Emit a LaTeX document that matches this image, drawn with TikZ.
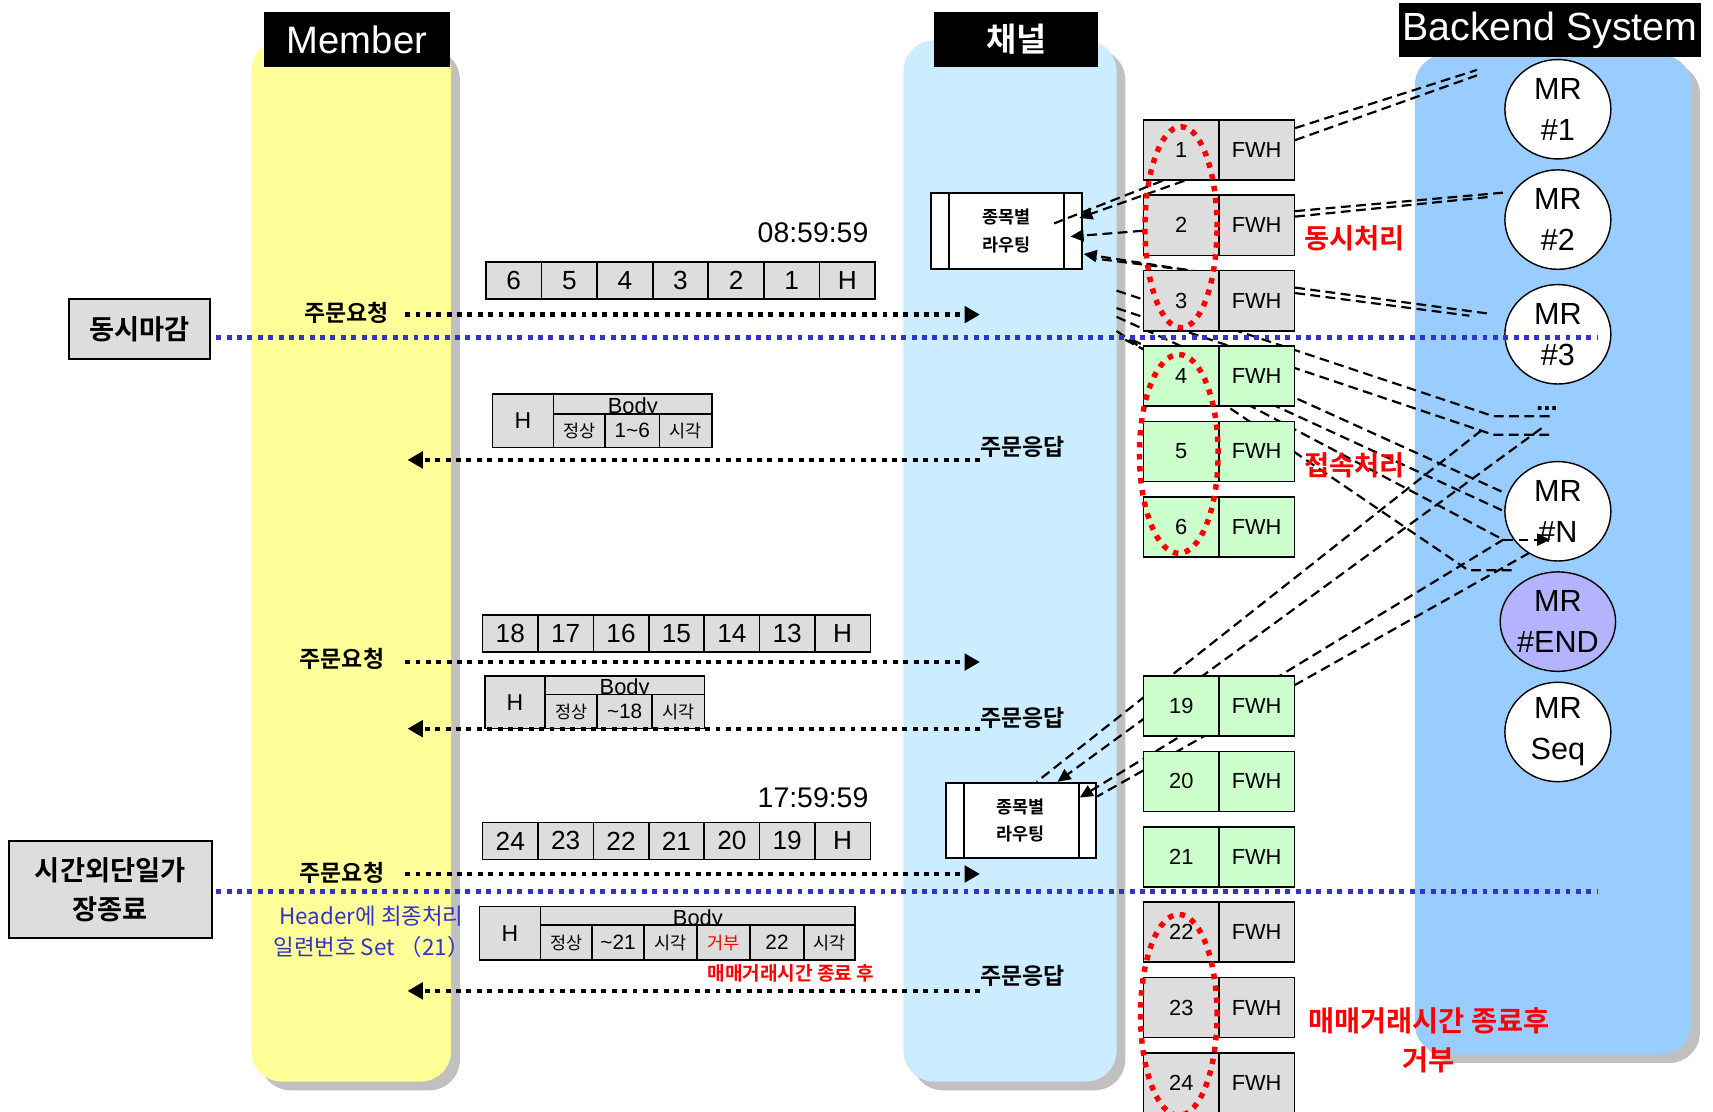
\documentclass[tikz,border=0pt]{standalone}
\usepackage{fontspec}
\setmainfont{Liberation Sans}
\newfontfamily\kr{Noto Sans CJK KR}[BoldFont={Noto Sans CJK KR Bold}]
\usepackage{tikz}
\usetikzlibrary{arrows.meta,positioning,shapes.geometric}
\definecolor{LaneYellow}{HTML}{FFFF99}
\definecolor{LaneSky}{HTML}{CCECFF}
\definecolor{LaneBlue}{HTML}{99CCFF}
\definecolor{LaneShade}{HTML}{C0C0C0}
\definecolor{PktGray}{HTML}{DDDDDD}
\definecolor{PktGreen}{HTML}{CCFFCC}
\definecolor{CutBlue}{HTML}{3333CC}
\definecolor{EndViolet}{HTML}{B3B3FF}
\definecolor{NoteRed}{HTML}{FF0000}
\newcommand{\fsz}[2]{\fontsize{#1}{#2}\selectfont}
\newcommand{\kc}[1]{{\kr\fsz{16}{18}#1}}
\pgfdeclarelayer{lanes}
\pgfdeclarelayer{wires}
\pgfsetlayers{lanes,wires,main}
\tikzset{
  lanehead/.style={fill=black,text=white,inner sep=0pt,anchor=north west},
  sidebox/.style={draw=black,line width=1.8pt,fill=PktGray,inner sep=0pt,align=center,font=\kr\bfseries\fsz{25}{35}},
  pktcell/.style={draw=black,line width=1.5pt,fill=PktGray,inner sep=0pt,anchor=north west,font=\fsz{24}{26}},
  subcell/.style={pktcell,minimum height=31pt,font=\fsz{19}{20}},
  fwhcell/.style={draw=black,line width=1.5pt,inner sep=0pt,anchor=north west,minimum width=69pt,minimum height=55pt,font=\fsz{20}{22}},
  mrnode/.style={ellipse,draw=black,line width=1.3pt,fill=white,minimum width=97pt,minimum height=91pt,inner sep=0pt,align=center,font=\fsz{28}{37.5}},
  routebox/.style={draw=black,line width=1.8pt,fill=white,minimum width=138pt,minimum height=69pt,inner sep=0pt,align=center,font=\kr\bfseries\fsz{16}{25}},
  msglabel/.style={inner sep=0pt,font=\kr\bfseries\fsz{21}{23}},
  notered/.style={inner sep=0pt,text=NoteRed,align=center,font=\kr\bfseries\fsz{26}{36}},
  reqarrow/.style={-{Triangle[length=14pt,width=15pt]},line width=4pt,dash pattern=on 4.5pt off 5pt},
  cutline/.style={line width=4.5pt,draw=CutBlue,dash pattern=on 4.5pt off 5pt},
  wire/.style={line width=2pt,dash pattern=on 9pt off 5pt},
  wirearrow/.style={wire,-{Triangle[length=12pt,width=11pt]}},
  groupring/.style={draw=NoteRed,line width=5pt,dash pattern=on 5pt off 6pt}
}

\begin{document}
\begin{tikzpicture}[x=1pt,y=-1pt]
\useasboundingbox (0,0) rectangle (1568,1017);
% swim lanes
\begin{pgfonlayer}{lanes}
\foreach \xa/\ya/\xb/\yb/\col in {230/37/413/990/LaneYellow,827/37/1022/990/LaneSky,1295/50/1548/965/LaneBlue}{
  \fill[LaneShade,rounded corners=28pt] (\xa+8,\ya+8) rectangle (\xb+8,\yb+8);
  \fill[\col,rounded corners=28pt] (\xa,\ya) rectangle (\xb,\yb);
}
\end{pgfonlayer}
\node[lanehead,minimum width=171pt,minimum height=50pt,font=\fsz{35}{38}] (hmem) at (241,11) {Member};
\node[lanehead,minimum width=150pt,minimum height=50pt,font=\kr\bfseries\fsz{30}{34}] (hch) at (855,11) {채널};
\node[lanehead,minimum width=277pt,minimum height=49pt,font=\fsz{36}{38}] (hbe) at (1280,3) {Backend System};
\node[sidebox,minimum width=129pt,minimum height=55pt] (dm) at (127.5,301.5) {동시마감};
\node[sidebox,minimum width=186pt,minimum height=89pt] (tj) at (101,814.5) {시간외단일가\\장종료};

% channel boxes
\foreach \k/\y/\col in {1/109/PktGray,2/178/PktGray,3/247/PktGray,4/316/PktGreen,5/385/PktGreen,6/454/PktGreen,19/618/PktGreen,20/687/PktGreen,21/756/PktGreen,22/825/PktGray,23/894/PktGray,24/963/PktGray}{
  \node[fwhcell,fill=\col] (n\k) at (1046,\y) {\k};
  \node[fwhcell,fill=\col] (f\k) at (1115,\y) {FWH};
}
\draw[groupring] (1081,208) ellipse [x radius=33pt,y radius=92pt];
\draw[groupring] (1079,415.5) ellipse [x radius=36pt,y radius=91pt];
\draw[groupring] (1079,929) ellipse [x radius=35pt,y radius=92pt];

% backend MR
\node[mrnode] (mr1) at (1426,100) {MR\\\#1};
\node[mrnode] (mr2) at (1426,201) {MR\\\#2};
\node[mrnode] (mr3) at (1426,306) {MR\\\#3};
\node[inner sep=0pt,anchor=base,font=\bfseries\fsz{24}{24}] (mrdots) at (1416,376) {...};
\node[mrnode] (mrn) at (1426,468) {MR\\\#N};
\node[mrnode,fill=EndViolet] (mrend) at (1426,569) {MR\\\#END};
\node[mrnode] (mrseq) at (1426,670) {MR\\Seq};

\node[notered,font=\kr\bfseries\fsz{25}{30}] (nsim) at (1240,218) {동시처리};
\node[notered,font=\kr\bfseries\fsz{25}{30}] (ncon) at (1240,426) {접속처리};
\node[notered] (nrej) at (1308,952) {매매거래시간 종료후\\거부};

% routing and dashed wires
\begin{pgfonlayer}{wires}
\node[routebox] (rt1) at (921,211.5) {종목별\\라우팅};
\node[routebox] (rt2) at (934.5,751) {종목별\\라우팅};
\foreach \b in {rt1,rt2}{
  \draw[line width=1.8pt] ([xshift=18pt]\b.north west) -- ([xshift=18pt]\b.south west);
  \draw[line width=1.8pt] ([xshift=-17pt]\b.north east) -- ([xshift=-17pt]\b.south east);
}
\foreach \nm/\px/\py in {e1a/1352/64,e1b/1352/69,e2a/1380/176,e2b/1366/180,e3a/1362/287,e3b/1345/289,
  s1/1022/266,k1/1367/381,d1/1419/381,s2/1022/282,k2/1367/398,d2/1419/398,s3/1022/290,s4/1036/311,
  s5/1022/303,k5/1344/522,d5/1388/522,s6/1030/311,u1/1356/394,u2/1411/392,u3/1376/494,d3/1419/494,u4/1400/506}
  \coordinate (\nm) at (\px,\py);
\draw[wire] ([yshift=20pt]f1.east) -- (e1a);
\draw[wire] ([yshift=9pt]f1.east) -- (e1b);
\draw[wire] ([yshift=13pt]f2.east) -- (e2a);
\draw[wire] ([yshift=8pt]f2.east) -- (e2b);
\draw[wire] ([yshift=12pt]f3.east) -- (e3a);
\draw[wire] ([yshift=7pt]f3.east) -- (e3b);
\draw[wire] (s1) -- (k1) -- (d1);
\draw[wire] (s2) -- (k2) -- (d2);
\draw[wire] (s3) -- ([yshift=17pt]mrn.west);
\draw[wire] (s4) -- (mrn.west);
\draw[wire] (s5) -- (k5) -- (d5);
\draw[wire] (s6) -- (u3);
\draw[wire] (u1) -- ([xshift=14.5pt]rt2.north);
\draw[wirearrow] (u2) -- ([xshift=33.5pt]rt2.north);
\draw[wire,{Triangle[length=12pt,width=11pt]}-] ([xshift=-16pt,yshift=21pt]rt2.east) -- (u3);
\draw[wire] (u4) -- ([yshift=22pt]rt2.east);
\draw[wirearrow] ([xshift=38pt]n1.south west) -- ([xshift=-3pt,yshift=12pt]rt1.east);
\draw[wire] ([xshift=18pt]n1.south west) -- ([xshift=-26pt,yshift=7pt]rt1.east);
\draw[wirearrow] ([yshift=-5pt]n2.west) -- ([xshift=-11pt,yshift=-5pt]rt1.east);
\draw[wirearrow] ([xshift=40pt]n3.north west) -- ([xshift=1pt,yshift=-21pt]rt1.east);
\draw[wire] ([xshift=55pt,yshift=-2pt]n3.north west) -- ([xshift=10pt,yshift=-25pt]rt1.east);
\end{pgfonlayer}
\draw[wirearrow] (u3) -- (d3);

% cut-off lines
\coordinate (c1a) at (198,309); \coordinate (c1b) at (1462,309);
\coordinate (c2a) at (198,816); \coordinate (c2b) at (1462,816);
\draw[cutline] (c1a) -- (c1b);
\draw[cutline] (c2a) -- (c2b);

% order packets
\foreach \cell [count=\i from 0] in {6,5,4,3,2,1,H}
  \node[pktcell,minimum width=50.9pt,minimum height=34pt] (pa\i) at (444+50.9*\i,239) {\cell};
\foreach \cell [count=\i from 0] in {18,17,16,15,14,13,H}
  \node[pktcell,minimum width=50.7pt,minimum height=34pt] (pb\i) at (441+50.7*\i,562) {\cell};
\foreach \cell [count=\i from 0] in {24,23,22,21,20,19,H}
  \node[pktcell,minimum width=50.7pt,minimum height=34pt] (pc\i) at (441+50.7*\i,752) {\cell};
\node[anchor=east,inner sep=0pt,font=\fsz{26}{28}] (ta) at (795,213) {08:59:59};
\node[anchor=east,inner sep=0pt,font=\fsz{26}{28}] (tb) at (795,730) {17:59:59};

% response packets
\node[pktcell,minimum width=56pt,minimum height=49pt,font=\fsz{21}{22}] (ra0) at (450,360) {H};
\node[pktcell,minimum width=145pt,minimum height=18pt,font=\fsz{20}{20}] (rab) at (506,360) {\raisebox{-9pt}[0pt][0pt]{Body}};
\foreach \x/\w/\cell [count=\i] in {506/47/\kc{정상},553/50/1\textasciitilde6,603/48/\kc{시각}}
  \node[subcell,minimum width=\w pt] (ra\i) at (\x,378) {\cell};
\node[pktcell,minimum width=55pt,minimum height=48pt,font=\fsz{21}{22}] (rb0) at (443,618) {H};
\node[pktcell,minimum width=146pt,minimum height=17pt,font=\fsz{20}{20}] (rbb) at (498,618) {\raisebox{-8.5pt}[0pt][0pt]{Body}};
\foreach \x/\w/\cell [count=\i] in {498/48/\kc{정상},546/50/\textasciitilde18,596/48/\kc{시각}}
  \node[subcell,minimum width=\w pt] (rb\i) at (\x,635) {\cell};
\node[pktcell,minimum width=56pt,minimum height=49pt,font=\fsz{21}{22}] (rc0) at (438,829) {H};
\node[pktcell,minimum width=288pt,minimum height=17pt,font=\fsz{20}{20}] (rcb) at (494,829) {\raisebox{-8.5pt}[0pt][0pt]{Body}};
\foreach \x/\w/\cell [count=\i] in {494/47/\kc{정상},541/48/\textasciitilde21,589/48/\kc{시각},637/49/\kc{\color{NoteRed}거부},686/49/22,735/47/\kc{시각}}
  \node[subcell,minimum width=\w pt,minimum height=32pt] (rc\i) at (\x,846) {\cell};

% requests and responses
\node[msglabel] (rq1) at (317,286) {주문요청};
\node[msglabel] (rq2) at (313,603) {주문요청};
\node[msglabel] (rq3) at (313,799) {주문요청};
\coordinate (rq1e) at (897,288);
\coordinate (rq2e) at (897,606);
\coordinate (rq3e) at (897,800);
\draw[reqarrow] ([xshift=15pt,yshift=-2pt]rq1.east) -- (rq1e);
\draw[reqarrow] ([xshift=19pt,yshift=-3pt]rq2.east) -- (rq2e);
\draw[reqarrow] ([xshift=19pt,yshift=-1pt]rq3.east) -- (rq3e);
\node[msglabel,anchor=west] (rs1) at (897,409) {주문응답};
\node[msglabel,anchor=west] (rs2) at (897,657) {주문응답};
\node[msglabel,anchor=west] (rs3) at (897,893) {주문응답};
\coordinate (rs1e) at (373,421);
\coordinate (rs2e) at (373,667);
\coordinate (rs3e) at (373,907);
\draw[reqarrow] ([yshift=-12pt]rs1.west) -- (rs1e);
\draw[reqarrow] ([yshift=-10pt]rs2.west) -- (rs2e);
\draw[reqarrow] ([yshift=-14pt]rs3.west) -- (rs3e);
\node[inner sep=0pt,text=CutBlue,align=center,font=\kr\fsz{20.5}{29}] (hnote) at (340,853) {Header에 최종처리\\일련번호 Set （21）};
\node[inner sep=0pt,text=NoteRed,font=\kr\bfseries\fsz{17.5}{18}] (rnote) at (724,891) {매매거래시간 종료 후};
\end{tikzpicture}
\end{document}
